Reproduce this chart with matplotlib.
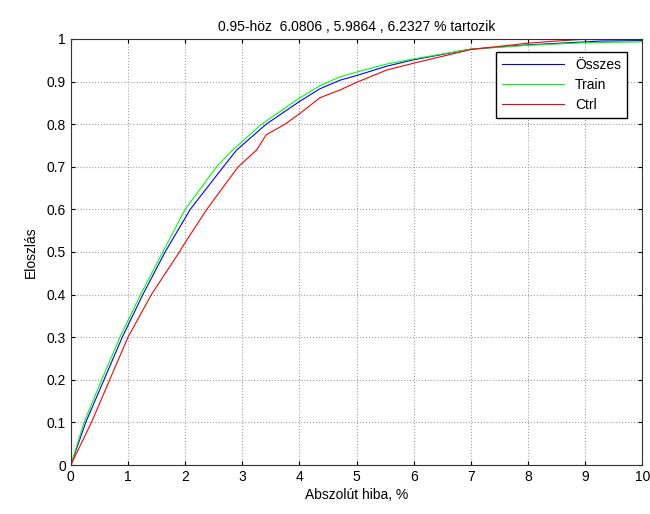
import matplotlib
matplotlib.use("Agg")
import matplotlib.pyplot as plt

plt.rcParams['font.family'] = ['Liberation Sans', 'DejaVu Sans']

# ECDF points (x = abs error %, y = cumulative share)
osszes_x = [0, 0.26, 0.58, 0.90, 1.26, 1.65, 2.09, 2.67, 2.90, 3.42, 4.0, 4.36, 4.71, 5.0, 5.53, 6.0, 7.0, 8.0, 9.0, 9.27, 10.0]
osszes_y = [0, 0.10, 0.20, 0.30, 0.40, 0.50, 0.60, 0.70, 0.739, 0.80, 0.853, 0.883, 0.903, 0.914, 0.936, 0.951, 0.976, 0.986, 0.993, 0.995, 0.996]

train_x = [0, 0.23, 0.54, 0.86, 1.22, 1.61, 2.0, 2.55, 2.83, 3.34, 4.0, 4.36, 4.71, 5.0, 5.53, 6.0, 7.0, 8.0, 9.0, 10.0]
train_y = [0, 0.10, 0.20, 0.30, 0.40, 0.50, 0.60, 0.70, 0.739, 0.80, 0.861, 0.890, 0.911, 0.922, 0.941, 0.953, 0.976, 0.985, 0.991, 0.993]

ctrl_x = [0, 0.36, 0.68, 1.0, 1.41, 1.90, 2.0, 2.38, 2.67, 2.93, 3.25, 3.42, 3.75, 4.0, 4.36, 4.71, 5.0, 5.53, 6.0, 7.0, 8.0, 8.5, 9.1, 10.0]
ctrl_y = [0, 0.10, 0.20, 0.30, 0.40, 0.50, 0.522, 0.60, 0.653, 0.70, 0.739, 0.775, 0.80, 0.824, 0.862, 0.880, 0.898, 0.927, 0.943, 0.975, 0.990, 0.995, 1.0, 1.0]

xticks = list(range(0, 11))
yticks = [0, 0.1, 0.2, 0.3, 0.4, 0.5, 0.6, 0.7, 0.8, 0.9, 1]
ytick_labels = ['0', '0.1', '0.2', '0.3', '0.4', '0.5', '0.6', '0.7', '0.8', '0.9', '1']

fig = plt.figure(figsize=(6.5, 5.14), dpi=100)
ax = fig.add_axes([0.109, 0.0953, 0.879, 0.829])

ax.plot(osszes_x, osszes_y, color='#0000ff', lw=0.8, label='Összes')
ax.plot(train_x, train_y, color='#00ff00', lw=0.8, label='Train')
ax.plot(ctrl_x, ctrl_y, color='#ff0000', lw=0.8, label='Ctrl')

ax.set_xlim(0, 10)
ax.set_ylim(0, 1)
ax.set_xticks(xticks)
ax.set_yticks(yticks)
ax.set_yticklabels(ytick_labels)
ax.tick_params(direction='in', top=True, right=True, labelsize=10, length=3)
ax.grid(True, color='#a0a0a0', linestyle=':', linewidth=0.8)
for s in ax.spines.values():
    s.set_color('#333333')
    s.set_linewidth(0.8)

ax.set_title('0.95-höz  6.0806 , 5.9864 , 6.2327 % tartozik', fontsize=10, pad=6)
ax.set_xlabel('Abszolút hiba, %', fontsize=10, labelpad=3)
ax.set_ylabel('Eloszlás', fontsize=10, labelpad=6)

leg = ax.legend(loc='upper right', bbox_to_anchor=(0.985, 0.985), fontsize=10,
                fancybox=False, framealpha=1, edgecolor='black',
                handlelength=4.5, borderpad=0.4, labelspacing=0.45)
leg.get_frame().set_linewidth(1.0)

fig.savefig('out.png', dpi=100)
